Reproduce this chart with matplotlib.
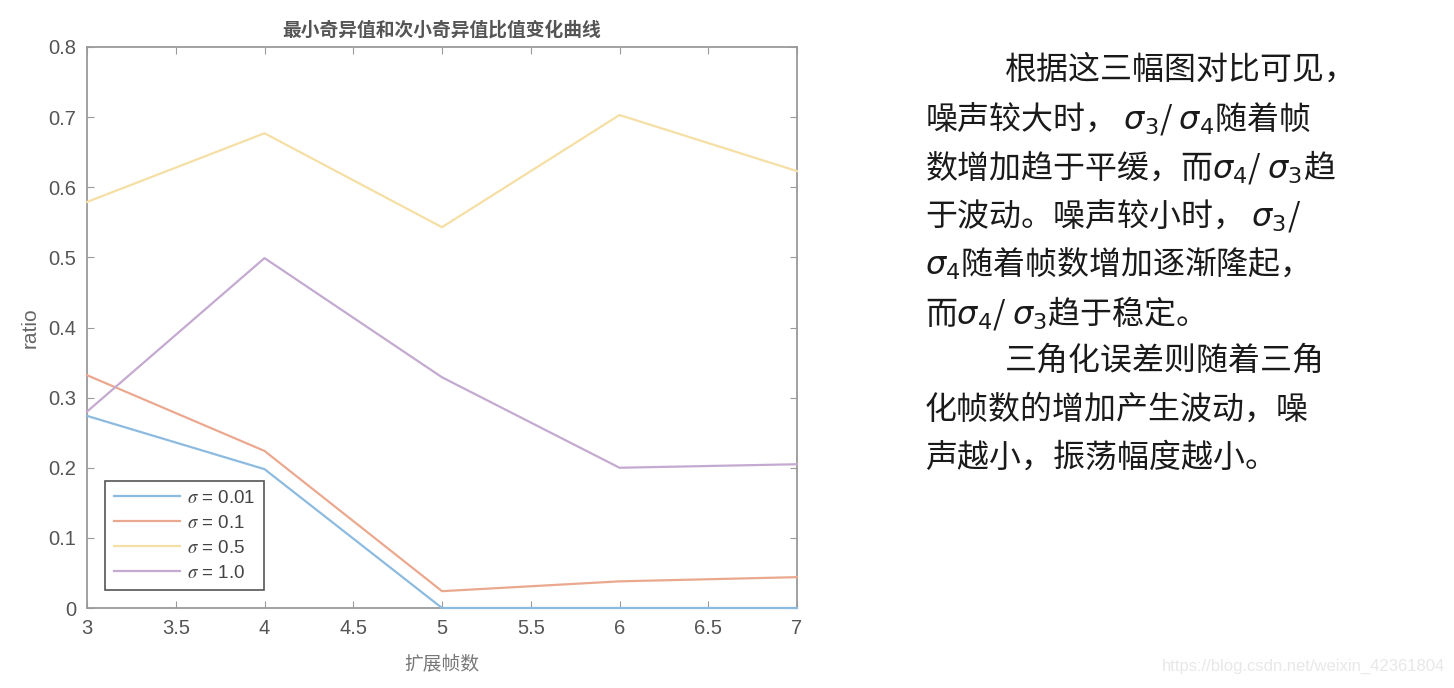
import matplotlib
matplotlib.use("Agg")
import matplotlib.pyplot as plt

plt.rcParams['font.family'] = ['Liberation Sans', 'Noto Sans CJK SC', 'DejaVu Sans']
plt.rcParams['mathtext.fontset'] = 'stix'

frames = [3, 4, 5, 6, 7]
ratio_001 = [0.274, 0.198, 0.0, 0.0, 0.0]
ratio_01 = [0.332, 0.224, 0.024, 0.038, 0.044]
ratio_05 = [0.579, 0.677, 0.543, 0.703, 0.623]
ratio_10 = [0.280, 0.499, 0.329, 0.200, 0.205]
series_labels = [r'$\sigma$ = 0.01', r'$\sigma$ = 0.1', r'$\sigma$ = 0.5', r'$\sigma$ = 1.0']
colors = ['#8dbbe0', '#eaa98f', '#f5dfa5', '#c4aad0']

title = '最小奇异值和次小奇异值比值变化曲线'
xlabel = '扩展帧数'
ylabel = 'ratio'

text_lines = [
    ('根据这三幅图对比可见，', True),
    (r'噪声较大时， $\sigma_3$/ $\sigma_4$随着帧', False),
    (r'数增加趋于平缓，而$\sigma_4$/ $\sigma_3$趋', False),
    (r'于波动。噪声较小时， $\sigma_3$/', False),
    (r'$\sigma_4$随着帧数增加逐渐隆起，', False),
    (r'而$\sigma_4$/ $\sigma_3$趋于稳定。', False),
    ('三角化误差则随着三角', True),
    ('化帧数的增加产生波动，噪', False),
    ('声越小，振荡幅度越小。', False),
]
watermark = 'https://blog.csdn.net/weixin_42361804'

fig = plt.figure(figsize=(14.54, 6.88), dpi=100)
ax = fig.add_axes([87/1454, 80/688, 710/1454, 561/688])

for ys, lab, c in zip([ratio_001, ratio_01, ratio_05, ratio_10], series_labels, colors):
    ax.plot(frames, ys, color=c, lw=1.6, label=lab, clip_on=False, zorder=3)

ax.set_xlim(3, 7)
ax.set_ylim(0, 0.8)
ax.set_xticks([3, 3.5, 4, 4.5, 5, 5.5, 6, 6.5, 7])
ax.set_xticklabels(['3', '3.5', '4', '4.5', '5', '5.5', '6', '6.5', '7'])
ax.set_yticks([0, 0.1, 0.2, 0.3, 0.4, 0.5, 0.6, 0.7, 0.8])
ax.set_yticklabels(['0', '0.1', '0.2', '0.3', '0.4', '0.5', '0.6', '0.7', '0.8'])
axc = '#9a9a9a'
for s in ax.spines.values():
    s.set_color(axc)
    s.set_linewidth(1.3)
    s.set_zorder(2)
ax.tick_params(direction='in', top=True, right=True, length=5, color=axc,
               labelsize=14.5, labelcolor='#555555', pad=8)

ax.set_title(title, fontsize=13.5, color='#555555', pad=8,
             family=['Noto Sans CJK SC', 'DejaVu Sans'], fontweight='bold')
ax.set_xlabel(xlabel, fontsize=13.5, color='#777777', labelpad=11,
              family=['Noto Sans CJK SC', 'DejaVu Sans'])
ax.set_ylabel(ylabel, fontsize=15, color='#666666', labelpad=6)

leg = ax.legend(loc='lower left', bbox_to_anchor=(0.026, 0.032), borderaxespad=0,
                fontsize=13.5, frameon=True, fancybox=False, handlelength=3.5,
                borderpad=0.45, labelspacing=0.42, handletextpad=0.4)
leg.get_frame().set_edgecolor('#555555')
leg.get_frame().set_linewidth(1.2)
leg.get_frame().set_alpha(1)
leg.set_zorder(5)
for t in leg.get_texts():
    t.set_color('#444444')

y0 = 70
for i, (line, indent) in enumerate(text_lines):
    x = 1005 if indent else 925
    fig.text(x/1454, 1 - (y0 + i*48.5)/688, line, fontsize=23, color='#1a1a1a',
             va='center', ha='left', family=['Noto Sans CJK SC', 'DejaVu Sans'],
             math_fontfamily='dejavusans')

fig.text(1445/1454, 1 - 666/688, watermark, fontsize=12, color='#e8e8e8',
         ha='right', va='center')

fig.savefig('out.png', dpi=100)
